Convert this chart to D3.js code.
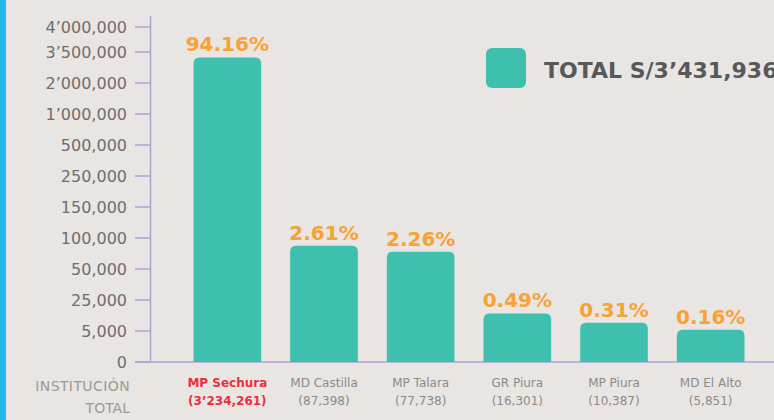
<!DOCTYPE html>
<html>
<head>
<meta charset="utf-8">
<script src="https://cdn.jsdelivr.net/npm/d3@7"></script>
<style>
  html, body { margin: 0; padding: 0; background: #e9e5e2; }
  svg { display: block; font-family: "DejaVu Sans", sans-serif; }
</style>
</head>
<body>
<div id="chart"></div>
<script>
// data
var institutions = ["MP Sechura", "MD Castilla", "MP Talara", "GR Piura", "MP Piura", "MD El Alto"];
var totals = [3234261, 87398, 77738, 16301, 10387, 5851];
var totalLabels = ["(3\u2019234,261)", "(87,398)", "(77,738)", "(16,301)", "(10,387)", "(5,851)"];
var shares = ["94.16%", "2.61%", "2.26%", "0.49%", "0.31%", "0.16%"];
var yTicks = [0, 5000, 25000, 50000, 100000, 150000, 250000, 500000, 1000000, 2000000, 3500000, 4000000];
var yTickLabels = ["0", "5,000", "25,000", "50,000", "100,000", "150,000", "250,000", "500,000",
                   "1\u2019000,000", "2\u2019000,000", "3\u2019500,000", "4\u2019000,000"];
var legendText = "TOTAL S/3\u2019431,936";

var width = 774, height = 420;
var teal = "#3fbfae", orange = "#f6a236", axisColor = "#a7a6d3";

var svg = d3.select("#chart").append("svg")
  .attr("width", width)
  .attr("height", height);

svg.append("rect")
  .attr("width", width).attr("height", height)
  .attr("fill", "#e9e5e2");

// blue stripe on the left edge
svg.append("rect")
  .attr("x", 0).attr("y", 0)
  .attr("width", 6).attr("height", height)
  .attr("fill", "#21b9ec");

// piecewise y scale, ticks evenly spaced (last step a bit shorter)
var y0 = 362, step = 31;
var yRange = yTicks.map(function(d, i) {
  return i < yTicks.length - 1 ? y0 - i * step : y0 - (i - 1) * step - 25;
});
var y = d3.scaleLinear().domain(yTicks).range(yRange);

var x = d3.scaleBand()
  .domain(institutions)
  .range([179, 759])
  .paddingInner(0.3)
  .paddingOuter(0.15);

// y axis
var axisX = 150.5;
svg.append("line")
  .attr("x1", axisX).attr("x2", axisX)
  .attr("y1", 16).attr("y2", y(0))
  .attr("stroke", axisColor).attr("stroke-width", 1.5);

svg.append("line")
  .attr("x1", 135).attr("x2", width)
  .attr("y1", y(0)).attr("y2", y(0))
  .attr("stroke", axisColor).attr("stroke-width", 1.5);

var tick = svg.selectAll(".tick")
  .data(yTicks)
  .enter()
  .append("g")
  .attr("class", "tick")
  .attr("transform", function(d) { return "translate(0," + y(d) + ")"; });

tick.append("line")
  .attr("x1", 135).attr("x2", axisX)
  .attr("stroke", axisColor).attr("stroke-width", 1.5);

tick.append("text")
  .attr("x", 127)
  .attr("dy", "0.36em")
  .attr("text-anchor", "end")
  .attr("fill", "#6f6d6c")
  .attr("style", "font-size: 16px")
  .text(function(d, i) { return yTickLabels[i]; });

// bars with rounded tops
var r = 6;
function barPath(d, i) {
  var x0 = x(institutions[i]), w = x.bandwidth();
  var top = y(d), bottom = y(0);
  return "M" + x0 + "," + bottom +
    "V" + (top + r) +
    "Q" + x0 + "," + top + " " + (x0 + r) + "," + top +
    "H" + (x0 + w - r) +
    "Q" + (x0 + w) + "," + top + " " + (x0 + w) + "," + (top + r) +
    "V" + bottom + "Z";
}

svg.selectAll(".bar")
  .data(totals)
  .enter()
  .append("path")
  .attr("class", "bar")
  .attr("d", barPath)
  .attr("fill", teal);

svg.selectAll(".share")
  .data(totals)
  .enter()
  .append("text")
  .attr("class", "share")
  .attr("x", function(d, i) { return x(institutions[i]) + x.bandwidth() / 2; })
  .attr("y", function(d) { return y(d) - 6; })
  .attr("text-anchor", "middle")
  .attr("fill", orange)
  .attr("style", "font-size: 20px; font-weight: bold")
  .text(function(d, i) { return shares[i]; });

// category labels
var cat = svg.selectAll(".cat")
  .data(institutions)
  .enter()
  .append("g")
  .attr("class", "cat")
  .attr("transform", function(d) { return "translate(" + (x(d) + x.bandwidth() / 2) + ",0)"; });

cat.append("text")
  .attr("y", 387)
  .attr("text-anchor", "middle")
  .attr("fill", function(d, i) { return i === 0 ? "#ea2f3c" : "#8c8a88"; })
  .attr("style", function(d, i) { return "font-size: 12px;" + (i === 0 ? " font-weight: bold" : ""); })
  .text(function(d) { return d; });

cat.append("text")
  .attr("y", 405)
  .attr("text-anchor", "middle")
  .attr("fill", function(d, i) { return i === 0 ? "#ea2f3c" : "#8c8a88"; })
  .attr("style", function(d, i) { return "font-size: 12px;" + (i === 0 ? " font-weight: bold" : ""); })
  .text(function(d, i) { return totalLabels[i]; });

svg.append("text")
  .attr("x", 130).attr("y", 391)
  .attr("text-anchor", "end")
  .attr("fill", "#9b9998")
  .attr("style", "font-size: 14px; letter-spacing: 0.4px")
  .text("INSTITUCI\u00d3N");

svg.append("text")
  .attr("x", 130).attr("y", 413)
  .attr("text-anchor", "end")
  .attr("fill", "#9b9998")
  .attr("style", "font-size: 14px")
  .text("TOTAL");

// legend
svg.append("rect")
  .attr("x", 486).attr("y", 48)
  .attr("width", 40).attr("height", 40)
  .attr("rx", 6)
  .attr("fill", teal);

svg.append("text")
  .attr("x", 544).attr("y", 78)
  .attr("fill", "#58585a")
  .attr("style", "font-size: 22px; font-weight: bold")
  .text(legendText);
</script>
</body>
</html>
